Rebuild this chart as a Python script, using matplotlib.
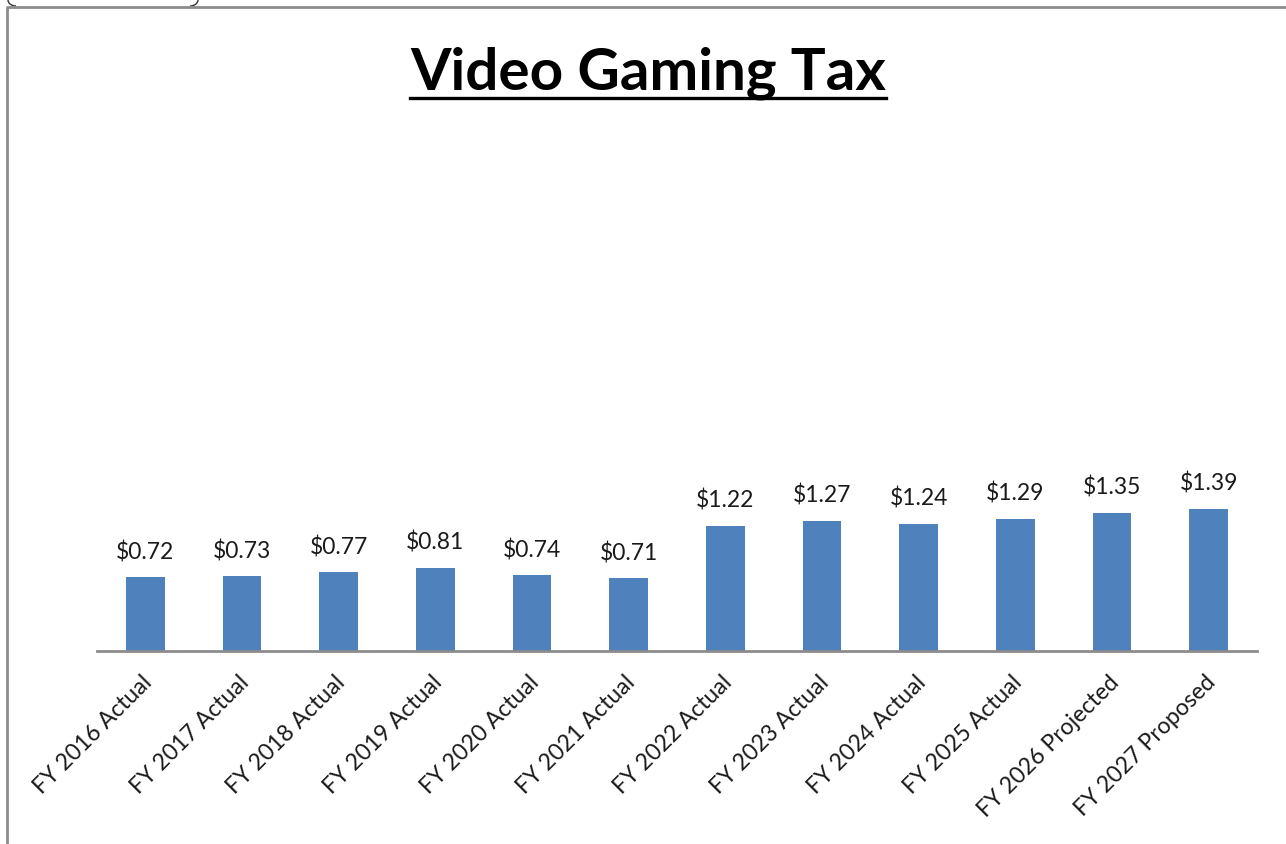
import matplotlib.pyplot as plt
from matplotlib.lines import Line2D
from matplotlib.patches import Arc
from matplotlib.transforms import ScaledTranslation

plt.rcParams['font.family'] = ['Lato', 'DejaVu Sans']

years = ['FY 2016 Actual', 'FY 2017 Actual', 'FY 2018 Actual', 'FY 2019 Actual',
         'FY 2020 Actual', 'FY 2021 Actual', 'FY 2022 Actual', 'FY 2023 Actual',
         'FY 2024 Actual', 'FY 2025 Actual', 'FY 2026 Projected', 'FY 2027 Proposed']
revenue = [0.72, 0.73, 0.77, 0.81, 0.74, 0.71, 1.22, 1.27, 1.24, 1.29, 1.35, 1.39]

bar_color = '#4F81BD'
frame_gray = '#8C8C8C'

fig = plt.figure(figsize=(12.86, 8.44), dpi=100)
fig.patch.set_facecolor('white')
ax = fig.add_axes([0.0754, 0.2287, 0.902, 0.6072])

x = range(len(years))
ax.bar(x, revenue, width=0.4, color=bar_color, zorder=2)
for xi, v in zip(x, revenue):
    ax.annotate(f'${v:.2f}', (xi, v), xytext=(0, 13), textcoords='offset points',
                ha='center', va='baseline', fontsize=16.5, color='#1a1a1a')

ax.set_xlim(-0.5, len(years) - 0.5)
ax.set_ylim(0, 5)
ax.set_yticks([])
for side in ['top', 'right', 'left']:
    ax.spines[side].set_visible(False)
ax.spines['bottom'].set_color(frame_gray)
ax.spines['bottom'].set_linewidth(2)

ax.set_xticks(list(x))
ax.set_xticklabels(years, rotation=45, ha='right', va='top',
                   rotation_mode='anchor', fontsize=16.6, color='#1a1a1a')
ax.tick_params(axis='x', length=0, pad=15)
shift = ScaledTranslation(-0.04, 0, fig.dpi_scale_trans)
for lbl in ax.get_xticklabels():
    lbl.set_transform(lbl.get_transform() + shift)

# title with underline
title = fig.text(0.504, 0.8945, 'Video Gaming Tax', ha='center', va='baseline',
                 fontsize=42, fontweight='bold', color='black')
fig.canvas.draw()
bb = title.get_window_extent().transformed(fig.transFigure.inverted())
fig.add_artist(Line2D([bb.x0, bb.x1], [1 - 98 / 844] * 2, color='black', lw=2.4,
                      transform=fig.transFigure))

# chart area border (left and top edges)
fig.add_artist(Line2D([7 / 1286, 7 / 1286, 1.0], [0.0, 1 - 7 / 844, 1 - 7 / 844],
                      color=frame_gray, lw=2, transform=fig.transFigure))
# corners of the box above
for cx, t1, t2 in [(16, 180, 270), (190, 270, 360)]:
    fig.add_artist(Arc((cx / 1286, 1.0), 16 / 1286, 12 / 844, theta1=t1, theta2=t2,
                       color='#333333', lw=1, transform=fig.transFigure))

fig.savefig('out.png', dpi=100, facecolor='white')
